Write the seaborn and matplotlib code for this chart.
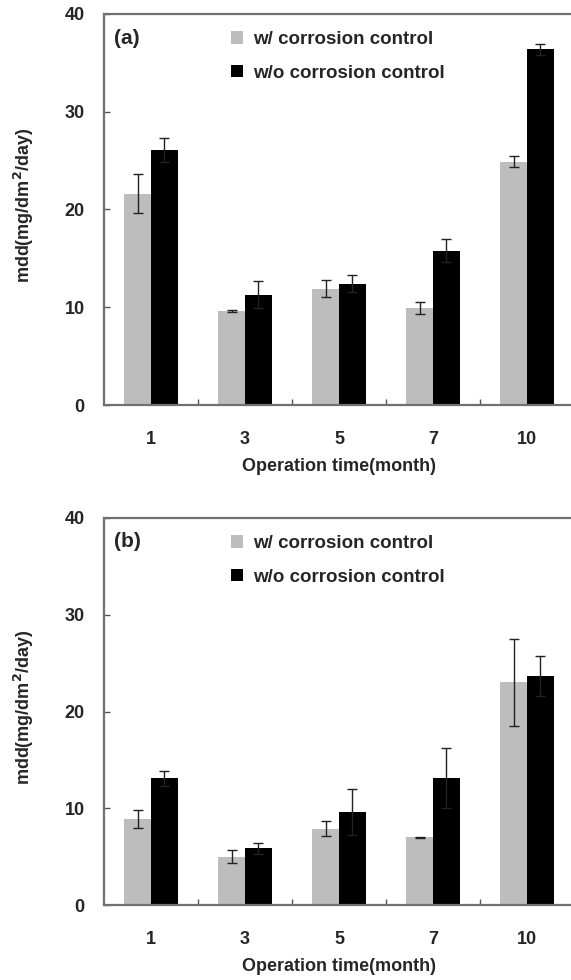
import matplotlib
matplotlib.use("Agg")
import matplotlib.pyplot as plt
import seaborn as sns
import pandas as pd
import numpy as np
from matplotlib.patches import Patch

months = ["1", "3", "5", "7", "10"]
series = ["w/ corrosion control", "w/o corrosion control"]

a_with = [21.6, 9.6, 11.9, 9.9, 24.9]
a_with_err = [2.0, 0.1, 0.9, 0.6, 0.6]
a_without = [26.1, 11.3, 12.4, 15.8, 36.4]
a_without_err = [1.2, 1.4, 0.85, 1.2, 0.55]

b_with = [8.9, 5.0, 7.9, 7.0, 23.0]
b_with_err = [0.9, 0.7, 0.8, 0.05, 4.5]
b_without = [13.1, 5.85, 9.6, 13.1, 23.7]
b_without_err = [0.75, 0.55, 2.4, 3.1, 2.05]

panels = [("(a)", a_with, a_with_err, a_without, a_without_err),
          ("(b)", b_with, b_with_err, b_without, b_without_err)]

sns.set_theme(style="white")
plt.rcParams['font.family'] = ['Liberation Sans', 'DejaVu Sans']
plt.rcParams['font.weight'] = 'bold'

colors = ["#bdbdbd", "#000000"]
fig = plt.figure(figsize=(5.71, 9.80), dpi=100)
W, H = 571, 980
positions = [(104, 14, 405), (104, 518, 905)]

for (label, w, we, wo, woe), (lx, top, bot) in zip(panels, positions):
    ax = fig.add_axes([lx / W, 1 - bot / H, 470 / W, (bot - top) / H])
    df = pd.DataFrame({
        "month": months * 2,
        "series": [series[0]] * 5 + [series[1]] * 5,
        "mdd": w + wo,
        "err": we + woe,
    })
    sns.barplot(data=df, x="month", y="mdd", hue="series", order=months,
                hue_order=series, palette=colors, width=0.57, gap=0,
                errorbar=None, ax=ax, legend=False, linewidth=0, saturation=1)
    errs = we + woe
    for p, e in zip(ax.patches, errs):
        cx = p.get_x() + p.get_width() / 2
        ax.errorbar(cx, p.get_height(), yerr=e, color="#222222",
                    elinewidth=1, capsize=3.5, capthick=1, zorder=5)
    ax.set_xlim(-0.5, 4.5)
    ax.set_ylim(0, 40)
    ax.set_yticks([0, 10, 20, 30, 40])
    ax.set_xticks(range(5))
    ax.set_xticklabels(months)
    ax.set_xticks([0.5, 1.5, 2.5, 3.5], minor=True)
    ax.tick_params(axis="x", which="major", length=0, pad=19, labelsize=13)
    ax.tick_params(axis="x", which="minor", direction="in", length=4,
                   width=1, color="#555555", bottom=True)
    ax.tick_params(axis="y", direction="in", length=4, width=1,
                   color="#555555", pad=14, labelsize=13, left=True)
    for lab in ax.get_xticklabels() + ax.get_yticklabels():
        lab.set_fontweight("bold")
    for s in ax.spines.values():
        s.set_color("#707070")
        s.set_linewidth(1.6)
    ax.set_xlabel("Operation time(month)", fontsize=13, fontweight="bold",
                  labelpad=7)
    ax.set_ylabel("mdd(mg/dm$^2$/day)", fontsize=13, fontweight="bold")
    ax.yaxis.set_label_coords(-0.145, 0.51)
    ax.text(0.021, 0.938, label, transform=ax.transAxes, fontsize=15,
            fontweight="bold", va="center", ha="left")
    handles = [Patch(facecolor=c, edgecolor="none") for c in colors]
    leg = ax.legend(handles, series, loc="upper left",
                    bbox_to_anchor=(0.234, 1.0), frameon=False,
                    fontsize=13.5, handlelength=0.65, handleheight=0.65,
                    handletextpad=0.55, labelspacing=0.9)
    for t in leg.get_texts():
        t.set_fontweight("bold")

fig.savefig("out.png", dpi=100)
